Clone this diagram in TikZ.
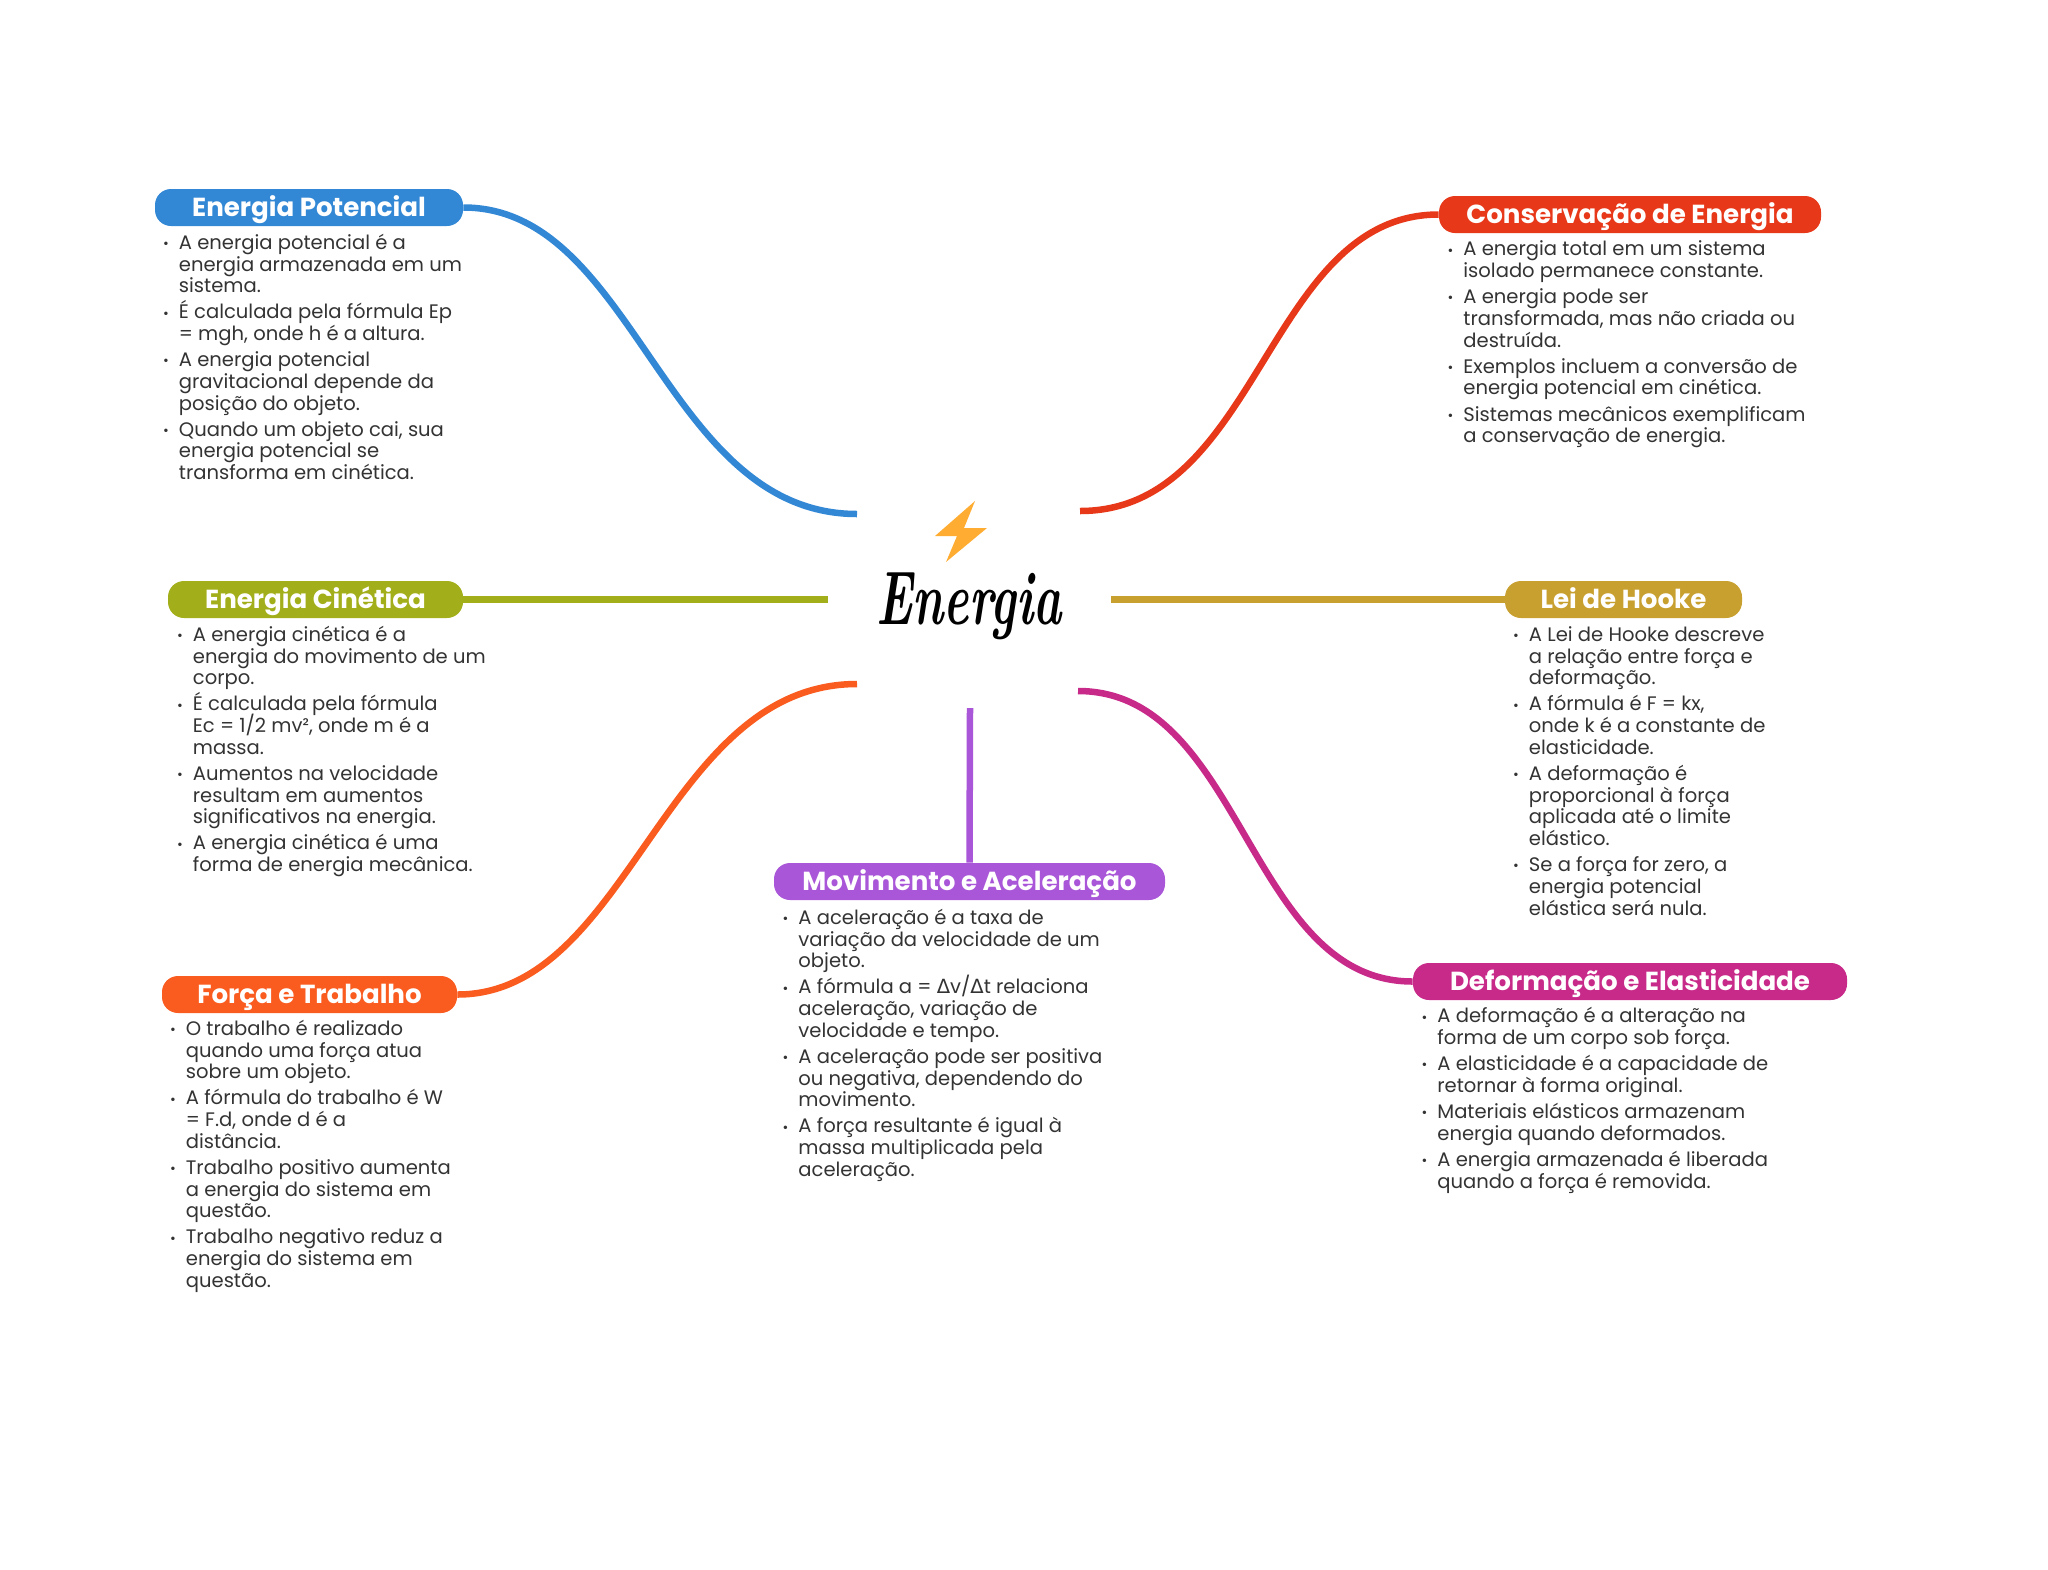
\documentclass[tikz,border=0pt]{standalone}
\usepackage{fontspec}
\usepackage{graphicx}
\setmainfont{Poppins}
\newfontfamily\greekfont{DejaVu Sans}
\newfontfamily\titlefont{Latin Modern Roman}
\definecolor{potblue}{HTML}{3388D6}
\definecolor{consred}{HTML}{E8381A}
\definecolor{cinolive}{HTML}{A3AF1A}
\definecolor{hookegold}{HTML}{C8A030}
\definecolor{forcaorange}{HTML}{FA5C20}
\definecolor{movpurple}{HTML}{A957D8}
\definecolor{defmagenta}{HTML}{C82A8A}
\definecolor{boltyellow}{HTML}{FFAC33}
\definecolor{listgray}{HTML}{333333}
\newcommand{\bul}{\rule{0pt}{9pt}\llap{{\fontsize{7}{7}\selectfont\raisebox{.4pt}{•}}\hspace{5pt}}}
\newcommand{\listfont}{\fontsize{9.78}{10.85}\selectfont\lineskiplimit-10pt\relax}
\tikzset{
	pill/.style={fill=#1,text=white,rounded corners=8pt,inner sep=0pt,minimum height=18.5pt,text height=11.2pt,text depth=2pt,font=\fontsize{13.05}{15}\selectfont\bfseries},
	itemlist/.style={anchor=north west,inner sep=0pt,align=left,text=listgray,font=\listfont},
	branch/.style={#1,line width=3.25pt}
}
\begin{document}
\begin{tikzpicture}[x=.5pt,y=-.5pt]
	\useasboundingbox (0,0) rectangle (2048,1569);

	\node (center) at (969,606) {\scalebox{.63}[1]{\titlefont\fontsize{38}{40}\selectfont\bfseries\itshape Energia}};
	\fill[boltyellow] (975,501) -- (935,536) -- (957,536) -- (946,562) -- (987,528) -- (964,528) -- cycle;

	\coordinate (hubpot) at (857,514);
	\coordinate (hubcons) at (1080,511);
	\coordinate (hubcin) at (828,599.5);
	\coordinate (hubhooke) at (1111,599.5);
	\coordinate (hubforca) at (857,684);
	\coordinate (hubmov) at (970,708);
	\coordinate (hubdef) at (1078,691);

	\node[pill=potblue,minimum width=154pt] (pot) at (309,207.5) {Energia Potencial};
	\node[pill=consred,minimum width=191pt] (cons) at (1630,214.5) {Conservação de Energia};
	\node[pill=cinolive,minimum width=147.5pt] (cin) at (315.5,599.5) {Energia Cinética};
	\node[pill=hookegold,minimum width=118.5pt] (hooke) at (1623.5,599.5) {Lei de Hooke};
	\node[pill=forcaorange,minimum width=147.5pt] (forca) at (309.5,994.5) {Força e Trabalho};
	\node[pill=movpurple,minimum width=195.5pt] (mov) at (969.5,881.5) {Movimento e Aceleração};
	\node[pill=defmagenta,minimum width=217pt] (def) at (1630,981.5) {Deformação e Elasticidade};

	\draw[branch=potblue] (pot.east) .. controls +(172,0) and +(-193,0) .. (hubpot);
	\draw[branch=consred] (cons.west) .. controls +(-172,0) and +(180,0) .. (hubcons);
	\draw[branch=cinolive] (cin.east) -- (hubcin);
	\draw[branch=hookegold] (hooke.west) -- (hubhooke);
	\draw[branch=forcaorange] (forca.east) .. controls +(172,0) and +(-193,0) .. (hubforca);
	\draw[branch=movpurple] (mov.north) -- (hubmov);
	\draw[branch=defmagenta] (def.west) .. controls +(-165,0) and +(165,0) .. (hubdef);

	\node[itemlist] (potlist) at (178.5,231) {\bul A energia potencial é a\\energia armazenada em um\\sistema.\\[2.2pt]
		\bul É calculada pela fórmula Ep\\= mgh, onde h é a altura.\\[2.2pt]
		\bul A energia potencial\\gravitacional depende da\\posição do objeto.\\[2.2pt]
		\bul Quando um objeto cai, sua\\energia potencial se\\transforma em cinética.};
	\node[itemlist] (conslist) at (1463,237.5) {\bul A energia total em um sistema\\isolado permanece constante.\\[2.2pt]
		\bul A energia pode ser\\transformada, mas não criada ou\\destruída.\\[2.2pt]
		\bul Exemplos incluem a conversão de\\energia potencial em cinética.\\[2.2pt]
		\bul Sistemas mecânicos exemplificam\\a conservação de energia.};
	\node[itemlist] (cinlist) at (192.5,623) {\bul A energia cinética é a\\energia do movimento de um\\corpo.\\[2.2pt]
		\bul É calculada pela fórmula\\Ec = 1/2 mv², onde m é a\\massa.\\[2.2pt]
		\bul Aumentos na velocidade\\resultam em aumentos\\significativos na energia.\\[2.2pt]
		\bul A energia cinética é uma\\forma de energia mecânica.};
	\node[itemlist] (hookelist) at (1528.5,623) {\bul A Lei de Hooke descreve\\a relação entre força e\\deformação.\\[2.2pt]
		\bul A fórmula é F = kx,\\onde k é a constante de\\elasticidade.\\[2.2pt]
		\bul A deformação é\\proporcional à força\\aplicada até o limite\\elástico.\\[2.2pt]
		\bul Se a força for zero, a\\energia potencial\\elástica será nula.};
	\node[itemlist] (forcalist) at (185.5,1017) {\bul O trabalho é realizado\\quando uma força atua\\sobre um objeto.\\[2.2pt]
		\bul A fórmula do trabalho é W\\= F.d, onde d é a\\distância.\\[2.2pt]
		\bul Trabalho positivo aumenta\\a energia do sistema em\\questão.\\[2.2pt]
		\bul Trabalho negativo reduz a\\energia do sistema em\\questão.};
	\node[itemlist] (movlist) at (798,906) {\bul A aceleração é a taxa de\\variação da velocidade de um\\objeto.\\[2.2pt]
		\bul A fórmula a = {\greekfont Δ}v/{\greekfont Δ}t relaciona\\aceleração, variação de\\velocidade e tempo.\\[2.2pt]
		\bul A aceleração pode ser positiva\\ou negativa, dependendo do\\movimento.\\[2.2pt]
		\bul A força resultante é igual à\\massa multiplicada pela\\aceleração.};
	\node[itemlist] (deflist) at (1437,1004.5) {\bul A deformação é a alteração na\\forma de um corpo sob força.\\[2.2pt]
		\bul A elasticidade é a capacidade de\\retornar à forma original.\\[2.2pt]
		\bul Materiais elásticos armazenam\\energia quando deformados.\\[2.2pt]
		\bul A energia armazenada é liberada\\quando a força é removida.};
\end{tikzpicture}
\end{document}
